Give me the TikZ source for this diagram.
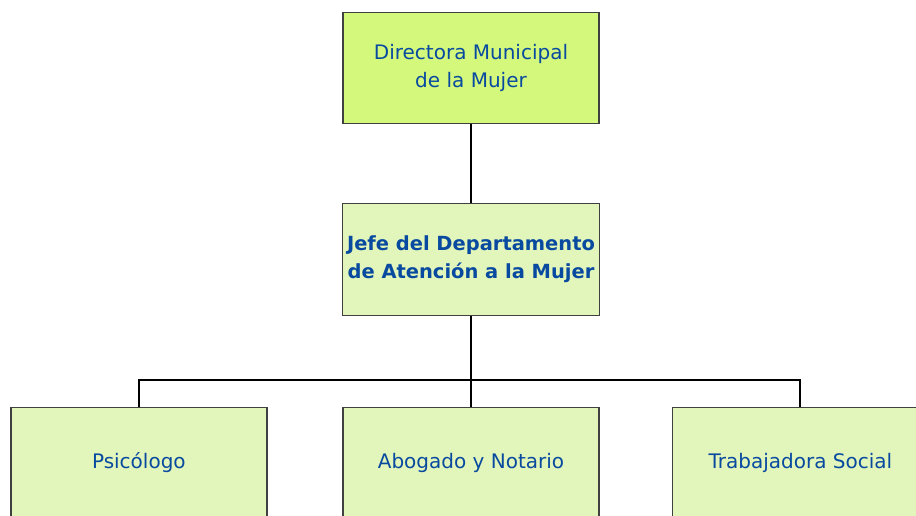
\documentclass[tikz,border=0pt]{standalone}
\usepackage{fontspec}
\setmainfont{DejaVu Sans}
\usetikzlibrary{positioning}
\definecolor{boxborder}{RGB}{64,64,64}
\definecolor{textblue}{RGB}{8,74,160}
\definecolor{limefill}{RGB}{212,248,124}
\definecolor{palefill}{RGB}{226,245,186}

\begin{document}
\begin{tikzpicture}[thick,
        main node/.style={rectangle,draw=boxborder,line width=1.1pt,
            minimum width=192pt,minimum height=83pt,align=center,
            text=textblue,font=\fontsize{15}{21}\selectfont},
        link/.style={draw=black,line width=1.5pt}]

    \useasboundingbox (0,0) rectangle (687pt,-387pt);

    % Nodes
    \node[main node,fill=limefill] (directora) at (353.25pt,-51pt)
        {Directora Municipal\\de la Mujer};
    \node[main node,fill=palefill,minimum height=84pt,font=\fontsize{14.6}{21}\selectfont\bfseries]
        (jefe) [below=59pt of directora] {Jefe del Departamento\\de Atención a la Mujer};
    \node[main node,fill=palefill] (abogado) [below=68pt of jefe] {Abogado y Notario};
    \node[main node,fill=palefill] (psico) [left=56pt of abogado] {Psicólogo};
    \node[main node,fill=palefill] (trabajadora) [right=54pt of abogado] {Trabajadora Social};

    % Edges
    \path[link]
    (directora) edge (jefe)
    (jefe) edge (abogado);
    \draw[link] (psico.north) -- ++(0,20.25pt) -| (trabajadora.north);

\end{tikzpicture}
\end{document}
